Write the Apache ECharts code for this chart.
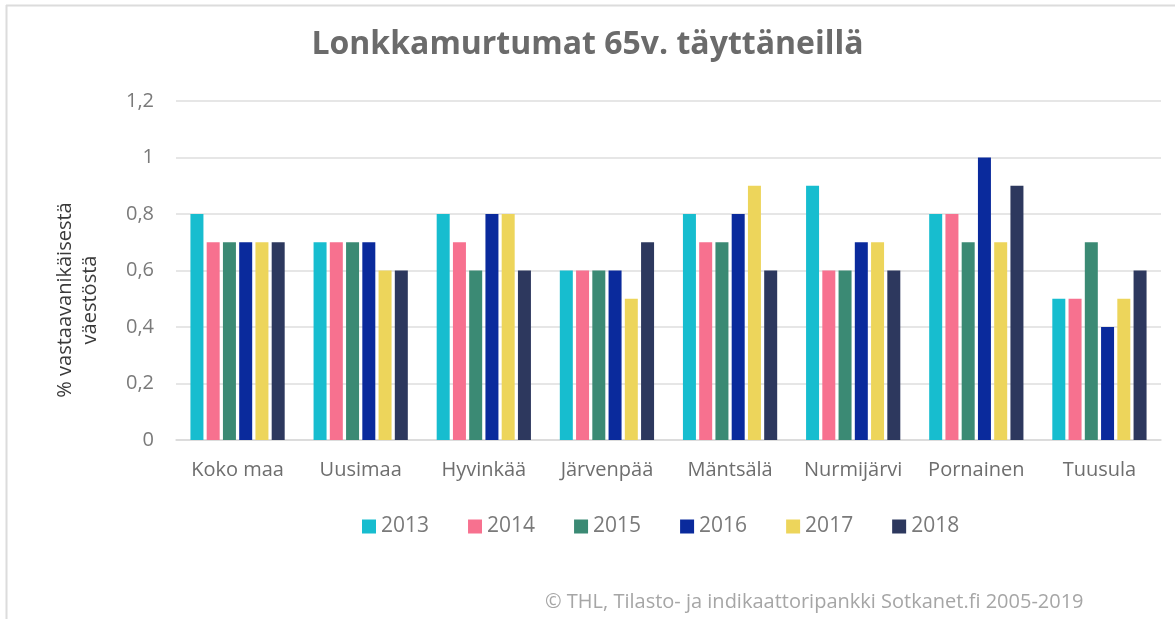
<!DOCTYPE html>
<html>
<head>
<meta charset="utf-8">
<script src="https://cdn.jsdelivr.net/npm/echarts@6/dist/echarts.min.js"></script>
<style>
  html, body { margin: 0; padding: 0; background: #fff; }
  #chart { width: 1175px; height: 619px; }
</style>
</head>
<body>
<div id="chart"></div>
<script>
// Municipalities on the x axis
const categories = ['Koko maa', 'Uusimaa', 'Hyvinkää', 'Järvenpää', 'Mäntsälä', 'Nurmijärvi', 'Pornainen', 'Tuusula'];

// Hip fractures, % of the population aged 65+
const years = ['2013', '2014', '2015', '2016', '2017', '2018'];
const v2013 = [0.8, 0.7, 0.8, 0.6, 0.8, 0.9, 0.8, 0.5];
const v2014 = [0.7, 0.7, 0.7, 0.6, 0.7, 0.6, 0.8, 0.5];
const v2015 = [0.7, 0.7, 0.6, 0.6, 0.7, 0.6, 0.7, 0.7];
const v2016 = [0.7, 0.7, 0.8, 0.6, 0.8, 0.7, 1.0, 0.4];
const v2017 = [0.7, 0.6, 0.8, 0.5, 0.9, 0.7, 0.7, 0.5];
const v2018 = [0.7, 0.6, 0.6, 0.7, 0.6, 0.6, 0.9, 0.6];

const yTicks = [0, 0.2, 0.4, 0.6, 0.8, 1, 1.2];

const seriesValues = [v2013, v2014, v2015, v2016, v2017, v2018];
const colors = ['#17BDCF', '#F7718F', '#3B8A74', '#0A2A9C', '#EDD55B', '#2D385E'];

const chart = echarts.init(document.getElementById('chart'), null, { renderer: 'canvas' });

chart.setOption({
  animation: false,
  backgroundColor: '#ffffff',
  color: colors,
  title: {
    text: 'Lonkkamurtumat 65v. täyttäneillä',
    left: 'center',
    top: 24,
    textStyle: {
      fontFamily: 'Open Sans',
      fontSize: 32,
      fontWeight: 'bold',
      color: '#6b6b6b'
    }
  },
  legend: {
    data: years,
    top: 511,
    left: 357,
    itemWidth: 14,
    itemHeight: 14,
    itemGap: 39,
    icon: 'rect',
    textStyle: { fontFamily: 'Open Sans', fontSize: 21, color: '#7a7a7a' }
  },
  grid: { left: 176, right: 14, top: 101, bottom: 179, containLabel: false },
  xAxis: {
    type: 'category',
    data: categories,
    axisLine: { show: true, lineStyle: { color: '#d9d9d9', width: 1.5 } },
    axisTick: { show: false },
    axisLabel: { interval: 0, fontFamily: 'Open Sans', fontSize: 20, color: '#6e6e6e', margin: 20 }
  },
  yAxis: {
    type: 'value',
    min: 0,
    max: 1.2,
    interval: 0.2,
    axisLine: { show: false },
    axisTick: { show: false },
    splitLine: { lineStyle: { color: '#dedede', width: 1.5 } },
    axisLabel: {
      fontFamily: 'Open Sans',
      fontSize: 20,
      color: '#7a7a7a',
      margin: 22,
      formatter: function (v) {
        const t = yTicks.find(function (x) { return Math.abs(x - v) < 1e-9; });
        return (t === undefined ? v : t).toString().replace('.', ',');
      }
    }
  },
  series: years.map(function (y, i) {
    return {
      name: y,
      type: 'bar',
      data: seriesValues[i],
      barWidth: 13,
      barGap: '25%',
      itemStyle: { color: colors[i] }
    };
  }),
  graphic: [
    { type: 'line', shape: { x1: 6, y1: 5.5, x2: 1175, y2: 5.5 }, style: { stroke: '#dcdcdc', lineWidth: 2 } },
    { type: 'line', shape: { x1: 6.5, y1: 5, x2: 6.5, y2: 619 }, style: { stroke: '#dcdcdc', lineWidth: 2 } },
    {
      type: 'text',
      x: 78,
      y: 300,
      rotation: Math.PI / 2,
      style: {
        text: '% vastaavanikäisestä\nväestöstä',
        fontFamily: 'Open Sans',
        fontSize: 20,
        lineHeight: 25,
        fill: '#3a3a3a',
        align: 'center',
        verticalAlign: 'middle'
      }
    },
    {
      type: 'text',
      left: 545,
      top: 592,
      style: {
        text: '© THL, Tilasto- ja indikaattoripankki Sotkanet.fi 2005-2019',
        fontFamily: 'Open Sans',
        fontSize: 20,
        fill: '#a6a6a6'
      }
    }
  ]
});
</script>
</body>
</html>
